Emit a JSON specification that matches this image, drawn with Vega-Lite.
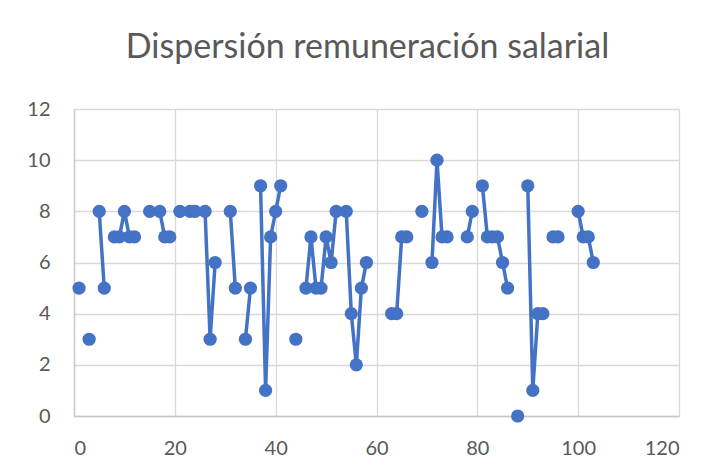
{
  "$schema": "https://vega.github.io/schema/vega-lite/v6.json",
  "width": 605,
  "height": 307,
  "autosize": {"type": "none"},
  "padding": {"left": 74, "top": 109, "right": 37, "bottom": 57},
  "background": "white",
  "title": {
    "text": "Dispersión remuneración salarial",
    "font": "Lato",
    "fontSize": 34,
    "fontWeight": "normal",
    "color": "#595959",
    "frame": "group",
    "anchor": "middle",
    "baseline": "alphabetic",
    "offset": 7,
    "dx": -9
  },
  "data": {
    "values": [
      {"n": 1, "v": 5}, {"n": 2, "v": null}, {"n": 3, "v": 3}, {"n": 4, "v": null},
      {"n": 5, "v": 8}, {"n": 6, "v": 5}, {"n": 7, "v": null}, {"n": 8, "v": 7},
      {"n": 9, "v": 7}, {"n": 10, "v": 8}, {"n": 11, "v": 7}, {"n": 12, "v": 7},
      {"n": 13, "v": null}, {"n": 14, "v": null}, {"n": 15, "v": 8}, {"n": 16, "v": null},
      {"n": 17, "v": 8}, {"n": 18, "v": 7}, {"n": 19, "v": 7}, {"n": 20, "v": null},
      {"n": 21, "v": 8}, {"n": 22, "v": null}, {"n": 23, "v": 8}, {"n": 24, "v": 8},
      {"n": 25, "v": null}, {"n": 26, "v": 8}, {"n": 27, "v": 3}, {"n": 28, "v": 6},
      {"n": 29, "v": null}, {"n": 30, "v": null}, {"n": 31, "v": 8}, {"n": 32, "v": 5},
      {"n": 33, "v": null}, {"n": 34, "v": 3}, {"n": 35, "v": 5}, {"n": 36, "v": null},
      {"n": 37, "v": 9}, {"n": 38, "v": 1}, {"n": 39, "v": 7}, {"n": 40, "v": 8},
      {"n": 41, "v": 9}, {"n": 42, "v": null}, {"n": 43, "v": null}, {"n": 44, "v": 3},
      {"n": 45, "v": null}, {"n": 46, "v": 5}, {"n": 47, "v": 7}, {"n": 48, "v": 5},
      {"n": 49, "v": 5}, {"n": 50, "v": 7}, {"n": 51, "v": 6}, {"n": 52, "v": 8},
      {"n": 53, "v": null}, {"n": 54, "v": 8}, {"n": 55, "v": 4}, {"n": 56, "v": 2},
      {"n": 57, "v": 5}, {"n": 58, "v": 6}, {"n": 59, "v": null}, {"n": 60, "v": null},
      {"n": 61, "v": null}, {"n": 62, "v": null}, {"n": 63, "v": 4}, {"n": 64, "v": 4},
      {"n": 65, "v": 7}, {"n": 66, "v": 7}, {"n": 67, "v": null}, {"n": 68, "v": null},
      {"n": 69, "v": 8}, {"n": 70, "v": null}, {"n": 71, "v": 6}, {"n": 72, "v": 10},
      {"n": 73, "v": 7}, {"n": 74, "v": 7}, {"n": 75, "v": null}, {"n": 76, "v": null},
      {"n": 77, "v": null}, {"n": 78, "v": 7}, {"n": 79, "v": 8}, {"n": 80, "v": null},
      {"n": 81, "v": 9}, {"n": 82, "v": 7}, {"n": 83, "v": 7}, {"n": 84, "v": 7},
      {"n": 85, "v": 6}, {"n": 86, "v": 5}, {"n": 87, "v": null}, {"n": 88, "v": 0},
      {"n": 89, "v": null}, {"n": 90, "v": 9}, {"n": 91, "v": 1}, {"n": 92, "v": 4},
      {"n": 93, "v": 4}, {"n": 94, "v": null}, {"n": 95, "v": 7}, {"n": 96, "v": 7},
      {"n": 97, "v": null}, {"n": 98, "v": null}, {"n": 99, "v": null}, {"n": 100, "v": 8},
      {"n": 101, "v": 7}, {"n": 102, "v": 7}, {"n": 103, "v": 6}
    ]
  },
  "encoding": {
    "x": {
      "field": "n",
      "type": "quantitative",
      "scale": {"domain": [0, 120], "nice": false, "zero": true},
      "axis": {"values": [0, 20, 40, 60, 80, 100, 120], "title": null, "labelPadding": 22}
    },
    "y": {
      "field": "v",
      "type": "quantitative",
      "scale": {"domain": [0, 12], "nice": false},
      "axis": {"values": [0, 2, 4, 6, 8, 10, 12], "title": null, "labelPadding": 24}
    }
  },
  "layer": [
    {
      "mark": {"type": "line", "color": "#4472C4", "strokeWidth": 3.5, "invalid": "break-paths-filter-domains"}
    },
    {
      "mark": {"type": "point", "filled": true, "shape": "circle", "size": 175, "color": "#4472C4", "opacity": 1, "invalid": "filter"}
    }
  ],
  "config": {
    "view": {"stroke": null},
    "axis": {
      "grid": true,
      "gridColor": "#d9d9d9",
      "gridWidth": 1.3,
      "domainColor": "#c8c8c8",
      "domainWidth": 1.3,
      "ticks": false,
      "labelFont": "Lato",
      "labelFontSize": 20,
      "labelColor": "#595959"
    }
  }
}
